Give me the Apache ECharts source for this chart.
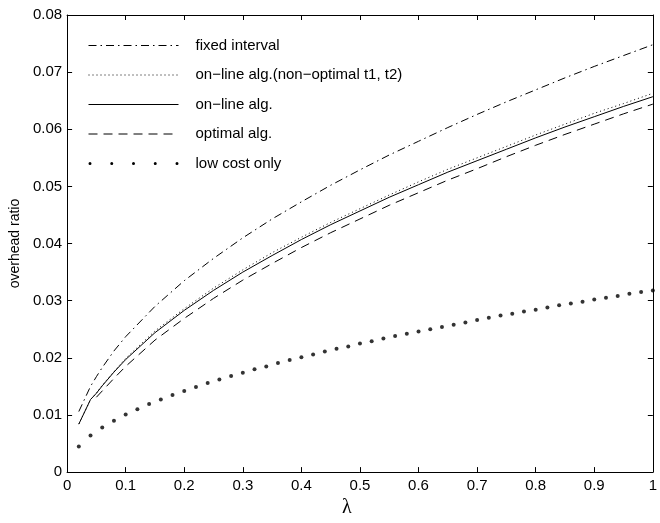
<!DOCTYPE html>
<html>
<head>
<meta charset="utf-8">
<script src="https://cdn.jsdelivr.net/npm/echarts@6/dist/echarts.min.js"></script>
<style>
  html, body { margin: 0; padding: 0; background: #fff; }
  #chart { width: 660px; height: 523px; }
</style>
</head>
<body>
<div id="chart"></div>
<script>
// lambda values shared by the four curves
const lambdaX = [0.02, 0.04, 0.05, 0.06, 0.08, 0.1, 0.15, 0.2, 0.25, 0.3, 0.35, 0.4, 0.45, 0.5,
  0.55, 0.6, 0.65, 0.7, 0.75, 0.8, 0.85, 0.9, 0.95, 1.0]

const fixedInterval = [0.0106, 0.0150, 0.0167, 0.0183, 0.0212, 0.0237, 0.0290, 0.0335, 0.0374, 0.0410,
  0.0443, 0.0473, 0.0502, 0.0529, 0.0555, 0.0579, 0.0603, 0.0626, 0.0648, 0.0669, 0.0690, 0.0710, 0.0729, 0.0748]

const onlineNonOpt = [0.0084, 0.0127, 0.0138, 0.0152, 0.0176, 0.0199, 0.0247, 0.0286, 0.0322, 0.0354,
  0.0384, 0.0411, 0.0437, 0.0461, 0.0485, 0.0508, 0.0530, 0.0550, 0.0570, 0.0590, 0.0609, 0.0628, 0.0645, 0.0663]

const onlineAlg = [0.0084, 0.0127, 0.0138, 0.0151, 0.0175, 0.0197, 0.0244, 0.0283, 0.0318, 0.0350,
  0.0379, 0.0407, 0.0433, 0.0457, 0.0481, 0.0503, 0.0525, 0.0545, 0.0565, 0.0585, 0.0604, 0.0622, 0.0640, 0.0657]

// optimal alg. starts a bit later
const optimalAlg = [null, null, 0.0131, 0.0142, 0.0164, 0.0185, 0.0231, 0.0269, 0.0304, 0.0336,
  0.0365, 0.0393, 0.0419, 0.0443, 0.0467, 0.0489, 0.0511, 0.0531, 0.0552, 0.0572, 0.0591, 0.0609, 0.0627, 0.0644]

// low cost only, sampled every 0.02
const lowCostX = [0.02, 0.04, 0.06, 0.08, 0.1, 0.12, 0.14, 0.16, 0.18, 0.2, 0.22, 0.24, 0.26, 0.28, 0.3,
  0.32, 0.34, 0.36, 0.38, 0.4, 0.42, 0.44, 0.46, 0.48, 0.5, 0.52, 0.54, 0.56, 0.58, 0.6, 0.62, 0.64, 0.66,
  0.68, 0.7, 0.72, 0.74, 0.76, 0.78, 0.8, 0.82, 0.84, 0.86, 0.88, 0.9, 0.92, 0.94, 0.96, 0.98, 1.0]
const lowCost = [0.0045, 0.0064, 0.0078, 0.0090, 0.0101, 0.0110, 0.0119, 0.0127, 0.0135, 0.0142, 0.0149,
  0.0156, 0.0162, 0.0168, 0.0174, 0.0180, 0.0185, 0.0191, 0.0196, 0.0201, 0.0206, 0.0211, 0.0216, 0.0220,
  0.0225, 0.0229, 0.0234, 0.0238, 0.0242, 0.0246, 0.0250, 0.0254, 0.0258, 0.0262, 0.0266, 0.0270, 0.0274,
  0.0277, 0.0281, 0.0284, 0.0288, 0.0292, 0.0295, 0.0298, 0.0302, 0.0305, 0.0308, 0.0312, 0.0315, 0.0318]

const xTicks = [0, 0.1, 0.2, 0.3, 0.4, 0.5, 0.6, 0.7, 0.8, 0.9, 1]
const yTicks = [0, 0.01, 0.02, 0.03, 0.04, 0.05, 0.06, 0.07, 0.08]

const seriesNames = ['fixed interval', 'on\u2212line alg.(non\u2212optimal t1, t2)', 'on\u2212line alg.', 'optimal alg.', 'low cost only']

const FONT = '"Liberation Sans", Arial, Helvetica, sans-serif'

const pairs = (xs, ys) => xs.map((x, i) => [x, ys[i]]).filter((p) => p[1] !== null)

let chartDom = document.getElementById('chart')
let chart = echarts.init(chartDom, null, { renderer: 'canvas' })

// common look of the box axes
const axisBase = {
  type: 'value',
  axisLine: { show: true, onZero: false, lineStyle: { color: '#000', width: 1 } },
  axisTick: { show: true, inside: true, length: 5, lineStyle: { color: '#000', width: 1 } },
  splitLine: { show: false }
}

let option = {
  backgroundColor: '#fff',
  animation: false,
  grid: { left: 59, right: 4, top: 15, bottom: 36 },
  legend: {
    orient: 'vertical',
    left: 88,
    top: 38,
    padding: 0,
    itemWidth: 90,
    itemHeight: 14,
    itemGap: 15.5 - 1,
    selectedMode: false,
    // hide the marker circle of line icons, keep only the line
    itemStyle: { opacity: 0 },
    lineStyle: { width: 1 },
    textStyle: { fontFamily: FONT, fontSize: 15, color: '#000', padding: [0, 0, 0, 12] },
    data: [
      { name: seriesNames[0] },
      { name: seriesNames[1] },
      { name: seriesNames[2] },
      { name: seriesNames[3] },
      {
        name: seriesNames[4],
        // five dots like the plotted marker line
        icon: 'path://M0,1.5a1.5,1.5 0 1,0 3,0a1.5,1.5 0 1,0 -3,0M21.75,1.5a1.5,1.5 0 1,0 3,0a1.5,1.5 0 1,0 -3,0M43.5,1.5a1.5,1.5 0 1,0 3,0a1.5,1.5 0 1,0 -3,0M65.25,1.5a1.5,1.5 0 1,0 3,0a1.5,1.5 0 1,0 -3,0M87,1.5a1.5,1.5 0 1,0 3,0a1.5,1.5 0 1,0 -3,0',
        itemStyle: { opacity: 1, color: '#000' }
      }
    ]
  },
  xAxis: [
    Object.assign({}, axisBase, {
      position: 'bottom',
      min: 0,
      max: 1,
      interval: 0.1,
      name: '\u03bb',
      nameLocation: 'middle',
      nameGap: 23,
      nameTextStyle: { fontFamily: '"Liberation Serif", "DejaVu Serif", serif', fontSize: 20, color: '#000', padding: [0, 26, 0, 0] },
      axisLabel: {
        fontFamily: FONT,
        fontSize: 15,
        color: '#000',
        margin: 6,
        formatter: (v) => (xTicks.indexOf(+v.toFixed(1)) >= 0 ? String(+v.toFixed(1)) : '')
      }
    }),
    Object.assign({}, axisBase, { position: 'top', min: 0, max: 1, interval: 0.1, axisLabel: { show: false } })
  ],
  yAxis: [
    Object.assign({}, axisBase, {
      position: 'left',
      min: 0,
      max: 0.08,
      interval: 0.01,
      name: 'overhead ratio',
      nameLocation: 'middle',
      nameGap: 33,
      nameTextStyle: { fontFamily: FONT, fontSize: 14, color: '#000' },
      axisLabel: {
        fontFamily: FONT,
        fontSize: 15,
        color: '#000',
        margin: 5,
        formatter: (v) => String(+v.toFixed(2))
      }
    }),
    Object.assign({}, axisBase, { position: 'right', min: 0, max: 0.08, interval: 0.01, axisLabel: { show: false } })
  ],
  series: [
    {
      name: seriesNames[0],
      type: 'line',
      data: pairs(lambdaX, fixedInterval),
      showSymbol: false,
      symbol: 'none',
      smooth: false,
      lineStyle: { color: '#000', width: 1, type: [8, 4, 1.5, 4] },
      itemStyle: { color: '#000' }
    },
    {
      name: seriesNames[1],
      type: 'line',
      data: pairs(lambdaX, onlineNonOpt),
      showSymbol: false,
      symbol: 'none',
      lineStyle: { color: '#000', width: 1, type: [1, 3] },
      itemStyle: { color: '#000' }
    },
    {
      name: seriesNames[2],
      type: 'line',
      data: pairs(lambdaX, onlineAlg),
      showSymbol: false,
      symbol: 'none',
      lineStyle: { color: '#000', width: 1, type: 'solid' },
      itemStyle: { color: '#000' }
    },
    {
      name: seriesNames[3],
      type: 'line',
      data: pairs(lambdaX, optimalAlg),
      showSymbol: false,
      symbol: 'none',
      lineStyle: { color: '#000', width: 1, type: [9, 6] },
      itemStyle: { color: '#000' }
    },
    {
      name: seriesNames[4],
      type: 'scatter',
      data: pairs(lowCostX, lowCost),
      symbol: 'circle',
      symbolSize: 4,
      itemStyle: { color: '#000' }
    }
  ]
}

chart.setOption(option)
</script>
</body>
</html>
